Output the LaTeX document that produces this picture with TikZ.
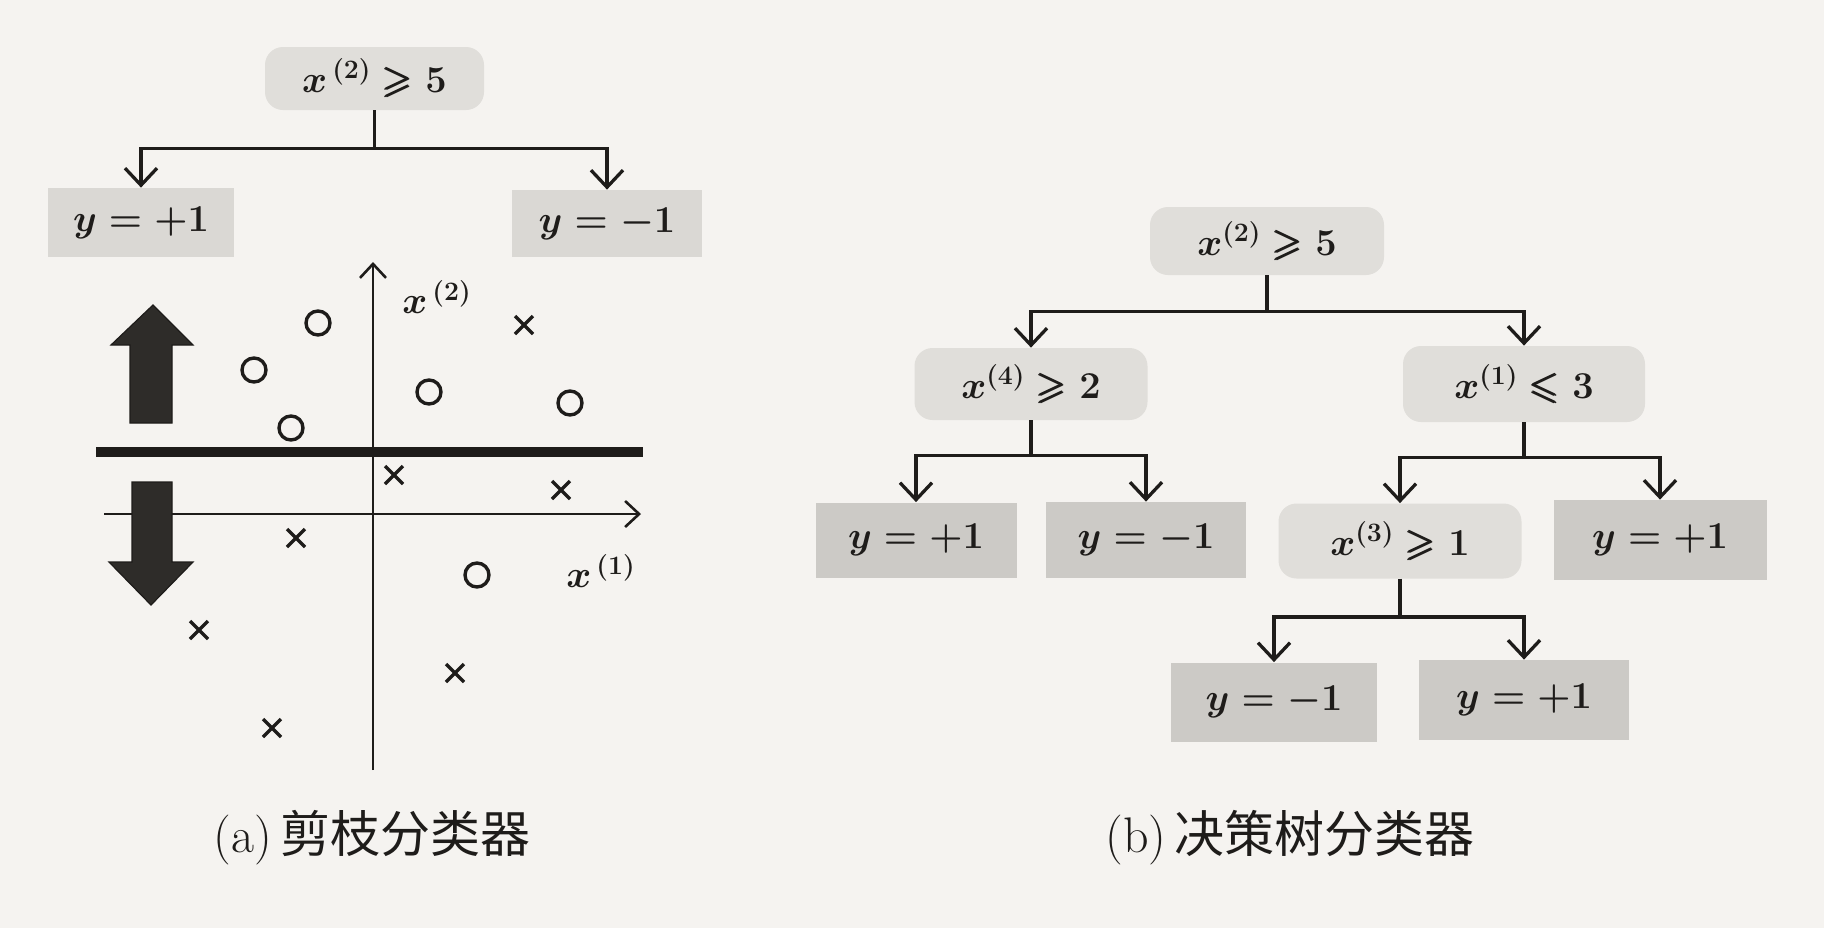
\RequirePackage{fix-cm}
\documentclass[tikz,border=0pt]{standalone}
\usepackage{amsmath}
\usepackage{amssymb}
\DeclareFontFamily{U}{msa}{}
\DeclareFontShape{U}{msa}{m}{n}{<->msam10}{}
\usepackage{fontspec}
\newfontfamily\cjk{Noto Sans CJK SC}
\usetikzlibrary{arrows.meta}
\newcommand\bgeq{\mathrel{\pmb{\geqslant}}}
\newcommand\bleq{\mathrel{\pmb{\leqslant}}}
\definecolor{bgcol}{HTML}{F5F3F0}
\definecolor{condfill}{HTML}{E0DEDA}
\definecolor{leafafill}{HTML}{DAD8D4}
\definecolor{leafbfill}{HTML}{CCCAC6}
\definecolor{ink}{HTML}{1E1C1A}
\definecolor{blockfill}{HTML}{2E2C29}
\begin{document}
\begin{tikzpicture}[x=0.5pt,y=-0.5pt,
  every node/.style={font=\fontsize{19}{23}\selectfont\boldmath, inner sep=0pt, text=ink},
  cond/.style={rounded corners=9pt, fill=condfill},
  leafa/.style={fill=leafafill},
  leafb/.style={fill=leafbfill},
  conn/.style={draw=ink, line width=1.65pt, line join=miter,
    -{Straight Barb[length=8.5pt,width=16pt,line width=1.65pt]}},
  axis/.style={draw=ink, line width=1.3pt,
    -{Straight Barb[length=7pt,width=13pt,line width=1.3pt]}},
  pt/.style={draw=ink, line width=1.7pt},
  block/.style={fill=blockfill, draw=ink, line width=0.6pt, line join=miter},
  caption/.style={font=\fontsize{25}{30}\selectfont}
]
\fill[bgcol] (0,0) rectangle (1824,928);
\useasboundingbox (0,0) rectangle (1824,928);

% ---------- (a) ----------
\node[cond, minimum width=109.5pt, minimum height=31.5pt] (ra) at (374.5,78.5) {$x^{\,(2)}\bgeq 5$};
\node[leafa, minimum width=93pt, minimum height=34.5pt] (a1) at (141,222.5) {$y=+1$};
\node[leafa, minimum width=95pt, minimum height=33.5pt] (a2) at (607,223.5) {$y=-1$};
\draw[conn] (ra.south) -- ++(0,38) -| (a1.north);
\draw[conn] (ra.south) -- ++(0,38) -| (a2.north);

% axes
\draw[axis] (104,514) -- (641,514);
\draw[axis] (373,770) -- (373,262);
\node (lx2) at (437,297) {$x^{\,(2)}$};
\node (lx1) at (601,571) {$x^{\,(1)}$};
% split line
\draw[ink, line width=5pt] (96,452) -- (643,452);
% block arrows
\draw[block] (130,423) -- (130,345) -- (111,345) -- (153,305) -- (193,345) -- (172,345) -- (172,423) -- cycle;
\draw[block] (132,482) -- (172,482) -- (172,562) -- (193,562) -- (151,605) -- (109,562) -- (132,562) -- cycle;
% samples
\foreach \x/\y in {318/323, 254/370, 291/428, 429/392, 570/403, 477/575}
  \draw[pt] (\x,\y) circle[radius=12];
\foreach \x/\y in {524/325, 394/475, 561/490, 296/538, 199/630, 455/673, 272/728}
  \draw[pt] (\x-9,\y-9) -- (\x+9,\y+9) (\x-9,\y+9) -- (\x+9,\y-9);

\node[caption] (capa) at (372,838) {(a)\,{\cjk 剪枝分类器}};

% ---------- (b) ----------
\node[cond, minimum width=117pt, minimum height=34pt] (rb) at (1267,241) {$x^{(2)}\bgeq 5$};
\node[cond, minimum width=116.5pt, minimum height=36pt] (b1) at (1031,384) {$x^{(4)}\bgeq 2$};
\node[cond, minimum width=121pt, minimum height=38pt] (b2) at (1524,384) {$x^{(1)}\bleq 3$};
\node[leafb, minimum width=100.5pt, minimum height=37.5pt] (b11) at (916,540) {$y=+1$};
\node[leafb, minimum width=100pt, minimum height=38pt] (b12) at (1146,540) {$y=-1$};
\node[cond, minimum width=121.5pt, minimum height=37.5pt] (b21) at (1400,541) {$x^{(3)}\bgeq 1$};
\node[leafb, minimum width=106.5pt, minimum height=40pt] (b22) at (1660,540) {$y=+1$};
\node[leafb, minimum width=103pt, minimum height=39.5pt] (b211) at (1274,702) {$y=-1$};
\node[leafb, minimum width=105pt, minimum height=40pt] (b212) at (1524,700) {$y=+1$};

\draw[conn] (rb.south) -- ++(0,36) -| (b1.north);
\draw[conn] (rb.south) -- ++(0,36) -| (b2.north);
\draw[conn] (b1.south) -- ++(0,35) -| (b11.north);
\draw[conn] (b1.south) -- ++(0,35) -| (b12.north);
\draw[conn] (b2.south) -- ++(0,35) -| (b21.north);
\draw[conn] (b2.south) -- ++(0,35) -| (b22.north);
\draw[conn] (b21.south) -- ++(0,38) -| (b211.north);
\draw[conn] (b21.south) -- ++(0,38) -| (b212.north);

\node[caption] (capb) at (1290,838) {(b)\,{\cjk 决策树分类器}};
\end{tikzpicture}
\end{document}
